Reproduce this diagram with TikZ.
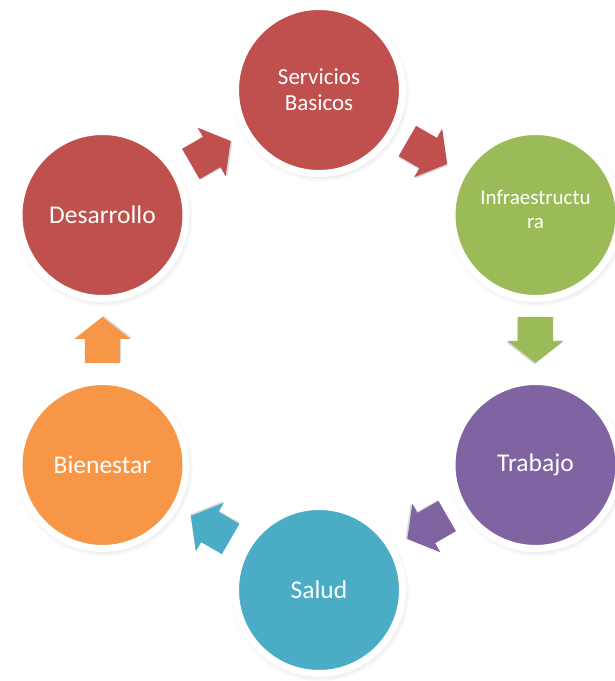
\documentclass[tikz,border=0pt]{standalone}
\usepackage{fontspec}
\setmainfont{Carlito}
\usetikzlibrary{calc,shadows,fadings}
\definecolor{cred}{HTML}{C0504D}
\definecolor{cgreen}{HTML}{9BBB59}
\definecolor{cpurple}{HTML}{8064A2}
\definecolor{cteal}{HTML}{4BACC6}
\definecolor{corange}{HTML}{F79646}
\tikzset{
  cyc/.style={circle, minimum size=167pt, inner sep=0pt, draw=white, line width=7pt,
    text=white, align=center, font=\fontsize{25.5}{30}\selectfont,
    circular drop shadow={shadow xshift=1pt, shadow yshift=-2pt, opacity=0.35, shadow scale=1.07}},
  pics/barrow/.style={code={
    \fill[black,opacity=0.15,xshift=1.2pt,yshift=-1.2pt] (-23,-17.5)--(1,-17.5)--(1,-28)--(23,0)--(1,28)--(1,17.5)--(-23,17.5)--cycle;
    \path[pic actions] (-23,-17.5)--(1,-17.5)--(1,-28)--(23,0)--(1,28)--(1,17.5)--(-23,17.5)--cycle;
  }}
}
\begin{document}
\begin{tikzpicture}[x=1pt,y=1pt]
\useasboundingbox (0,0) rectangle (615,681);
\coordinate (O) at (319,341);
\node[cyc, fill=cred, font=\fontsize{23}{26}\selectfont] (serv) at ([shift={(90:250)}]O) {Servicios\\Basicos};
\node[cyc, fill=cgreen] (infra) at ([shift={(30:250)}]O) {};
\node[text=white, align=center, font=\fontsize{21}{24}\selectfont] (infratxt) at ([yshift=6]infra.center) {Infraestructu\\ra};
\node[cyc, fill=cpurple] (trab) at ([shift={(-30:250)}]O) {Trabajo};
\node[cyc, fill=cteal] (salud) at ([shift={(-90:250)}]O) {Salud};
\node[cyc, fill=corange] (bien) at ([shift={(-150:250)}]O) {Bienestar};
\node[cyc, fill=cred] (des) at ([shift={(150:250)}]O) {Desarrollo};
\foreach \a/\b/\c in {des/serv/cred, serv/infra/cred, infra/trab/cgreen, trab/salud/cpurple, salud/bien/cteal, bien/des/corange}{
  \path let \p1=($(\b)-(\a)$), \n1={atan2(\y1,\x1)} in ($(\a)!0.5!(\b)$) pic[rotate=\n1, fill=\c]{barrow};
}
\end{tikzpicture}
\end{document}
